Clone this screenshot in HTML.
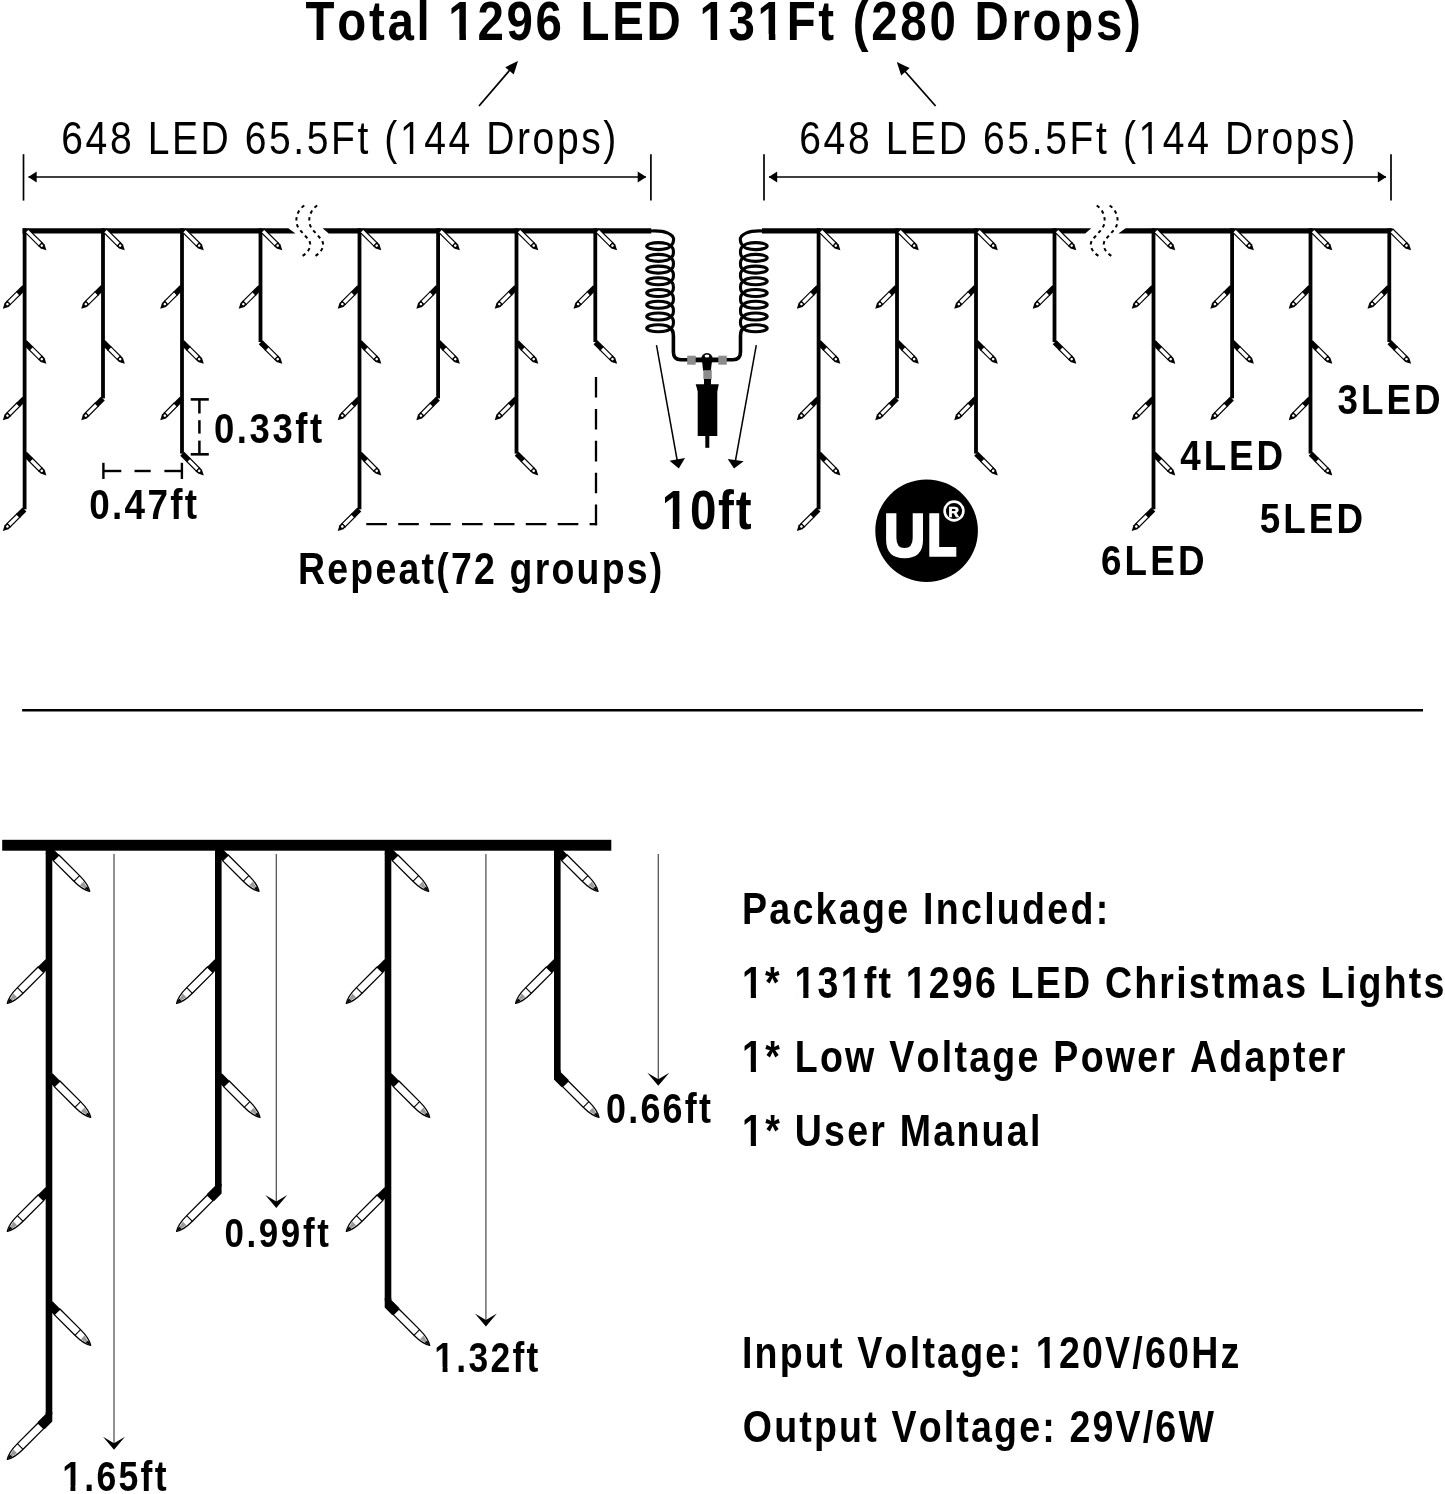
<!DOCTYPE html>
<html><head><meta charset="utf-8"><title>Icicle Lights Diagram</title>
<style>html,body{margin:0;padding:0;background:#fff;width:1445px;height:1494px;overflow:hidden}
svg text{font-family:"Liberation Sans",sans-serif;font-kerning:none} svg{will-change:transform}</style></head>
<body>
<svg width="1445" height="1494" viewBox="0 0 1445 1494" style="display:block"><defs><g id="ledS">
<path d="M0.3,-2.8 L9.5,-2.8 L9.5,2.8 L0.3,2.8 Z" fill="#000"/>
<rect x="9" y="-2.25" width="13.5" height="4.5" fill="#fff" stroke="#000" stroke-width="1.2"/>
<path d="M22,-2.8 L25.5,-2.8 L30.8,0 L25.5,2.8 L22,2.8 Z" fill="#000"/>
<circle cx="24.3" cy="0" r="1.3" fill="#fff"/>
</g><g id="ledS0">
<rect x="3" y="-2.25" width="19.5" height="4.5" fill="#fff" stroke="#000" stroke-width="1.2"/>
<path d="M22,-2.8 L25.5,-2.8 L30.8,0 L25.5,2.8 L22,2.8 Z" fill="#000"/>
<circle cx="24.3" cy="0" r="1.3" fill="#fff"/>
</g><g id="ledB">
<rect x="-4" y="-4.3" width="11" height="8.6" fill="#000"/>
<path d="M6.8,-4 L36,-4 C44,-4 50,-2.8 54.3,0 C50,2.8 44,4 36,4 L6.8,4 Z" fill="#fff" stroke="#000" stroke-width="1.3" stroke-linejoin="round"/>
<line x1="36" y1="-4" x2="36" y2="4" stroke="#000" stroke-width="1.1"/>
<path d="M43,-2.6 L53,0 L43,2.6 Z" fill="#9a9a9a"/>
<path d="M54.6,0 L49,-1.6 L49,1.6 Z" fill="#000"/>
</g></defs><g font-family="Liberation Sans, sans-serif" style="font-kerning:none"><text transform="translate(306.1,40.4) scale(0.85,1)" x="-0.63" y="0" font-size="55.81" font-weight="bold" letter-spacing="3.19">Total 1296 LED 131Ft (280 Drops)</text>
<g transform="translate(306.1,40.4) scale(0.85,1)" fill="#fff"><rect x="170.07" y="-6.5" width="10.31" height="7.3"/><rect x="188.03" y="-6.5" width="9.6" height="7.3"/><rect x="465.59" y="-6.5" width="10.31" height="7.3"/><rect x="483.56" y="-6.5" width="9.6" height="7.3"/><rect x="534.06" y="-6.5" width="10.31" height="7.3"/><rect x="552.03" y="-6.5" width="9.6" height="7.3"/></g>
<line x1="479" y1="106" x2="512" y2="67.5" stroke="#000" stroke-width="1.8" stroke-linecap="butt" />
<polygon points="518,61 513.74,74.5 505.26,67.18" fill="#000"/>
<line x1="935.6" y1="106" x2="902.5" y2="68.5" stroke="#000" stroke-width="1.8" stroke-linecap="butt" />
<polygon points="896.8,62 909.6,68.04 901.2,75.45" fill="#000"/>
<text transform="translate(63.3,153.7) scale(0.85,1)" x="-2.33" y="0" font-size="45.97" font-weight="normal" letter-spacing="3.02">648 LED 65.5Ft (144 Drops)</text>
<g transform="translate(63.3,153.7) scale(0.85,1)" fill="#fff"><rect x="398.82" y="-4.23" width="8.86" height="5.03"/><rect x="411.74" y="-4.23" width="8.5" height="5.03"/></g>
<text transform="translate(801.2,153.7) scale(0.85,1)" x="-2.33" y="0" font-size="45.97" font-weight="normal" letter-spacing="3.07">648 LED 65.5Ft (144 Drops)</text>
<g transform="translate(801.2,153.7) scale(0.85,1)" fill="#fff"><rect x="399.65" y="-4.23" width="8.86" height="5.03"/><rect x="412.57" y="-4.23" width="8.5" height="5.03"/></g>
<line x1="23.5" y1="154.2" x2="23.5" y2="200.6" stroke="#000" stroke-width="1.7" stroke-linecap="butt" />
<line x1="650.9" y1="154.2" x2="650.9" y2="200.6" stroke="#000" stroke-width="1.7" stroke-linecap="butt" />
<line x1="28.5" y1="177" x2="645.9" y2="177" stroke="#000" stroke-width="1.5" stroke-linecap="butt" />
<polygon points="28.2,177 36.7,171.5 36.7,182.5" fill="#000"/>
<polygon points="646.2,177 637.7,182.5 637.7,171.5" fill="#000"/>
<line x1="764" y1="154.2" x2="764" y2="200.6" stroke="#000" stroke-width="1.7" stroke-linecap="butt" />
<line x1="1391" y1="154.2" x2="1391" y2="200.6" stroke="#000" stroke-width="1.7" stroke-linecap="butt" />
<line x1="769" y1="177" x2="1386" y2="177" stroke="#000" stroke-width="1.5" stroke-linecap="butt" />
<polygon points="768.7,177 777.2,171.5 777.2,182.5" fill="#000"/>
<polygon points="1386.3,177 1377.8,182.5 1377.8,171.5" fill="#000"/>
<path d="M22.6,228.3 L288.3,228.3 L295.5,233.5 L22.6,233.5 Z" fill="#000"/>
<path d="M322.6,228.3 L651.2,228.3 L651.2,233.5 L328.7,233.5 Z" fill="#000"/>
<rect x="22.7" y="228.3" width="3.8" height="281" fill="#000"/>
<use href="#ledS0" transform="translate(24.6,228.5) rotate(45)"/>
<use href="#ledS" transform="translate(24.6,287) rotate(135)"/>
<use href="#ledS" transform="translate(24.6,342) rotate(45)"/>
<use href="#ledS" transform="translate(24.6,398.4) rotate(135)"/>
<use href="#ledS" transform="translate(24.6,453.6) rotate(45)"/>
<use href="#ledS" transform="translate(24.6,509.3) rotate(135)"/>
<rect x="101.1" y="228.3" width="3.8" height="170.1" fill="#000"/>
<use href="#ledS0" transform="translate(103,228.5) rotate(45)"/>
<use href="#ledS" transform="translate(103,287) rotate(135)"/>
<use href="#ledS" transform="translate(103,342) rotate(45)"/>
<use href="#ledS" transform="translate(103,398.4) rotate(135)"/>
<rect x="180.1" y="228.3" width="3.8" height="225.3" fill="#000"/>
<use href="#ledS0" transform="translate(182,228.5) rotate(45)"/>
<use href="#ledS" transform="translate(182,287) rotate(135)"/>
<use href="#ledS" transform="translate(182,342) rotate(45)"/>
<use href="#ledS" transform="translate(182,398.4) rotate(135)"/>
<use href="#ledS" transform="translate(182,453.6) rotate(45)"/>
<rect x="258.6" y="228.3" width="3.8" height="113.7" fill="#000"/>
<use href="#ledS0" transform="translate(260.5,228.5) rotate(45)"/>
<use href="#ledS" transform="translate(260.5,287) rotate(135)"/>
<use href="#ledS" transform="translate(260.5,342) rotate(45)"/>
<rect x="357.6" y="228.3" width="3.8" height="281" fill="#000"/>
<use href="#ledS0" transform="translate(359.5,228.5) rotate(45)"/>
<use href="#ledS" transform="translate(359.5,287) rotate(135)"/>
<use href="#ledS" transform="translate(359.5,342) rotate(45)"/>
<use href="#ledS" transform="translate(359.5,398.4) rotate(135)"/>
<use href="#ledS" transform="translate(359.5,453.6) rotate(45)"/>
<use href="#ledS" transform="translate(359.5,509.3) rotate(135)"/>
<rect x="436.2" y="228.3" width="3.8" height="170.1" fill="#000"/>
<use href="#ledS0" transform="translate(438.1,228.5) rotate(45)"/>
<use href="#ledS" transform="translate(438.1,287) rotate(135)"/>
<use href="#ledS" transform="translate(438.1,342) rotate(45)"/>
<use href="#ledS" transform="translate(438.1,398.4) rotate(135)"/>
<rect x="514.6" y="228.3" width="3.8" height="225.3" fill="#000"/>
<use href="#ledS0" transform="translate(516.5,228.5) rotate(45)"/>
<use href="#ledS" transform="translate(516.5,287) rotate(135)"/>
<use href="#ledS" transform="translate(516.5,342) rotate(45)"/>
<use href="#ledS" transform="translate(516.5,398.4) rotate(135)"/>
<use href="#ledS" transform="translate(516.5,453.6) rotate(45)"/>
<rect x="593.4" y="228.3" width="3.8" height="113.7" fill="#000"/>
<use href="#ledS0" transform="translate(595.3,228.5) rotate(45)"/>
<use href="#ledS" transform="translate(595.3,287) rotate(135)"/>
<use href="#ledS" transform="translate(595.3,342) rotate(45)"/>
<path d="M304.3,205.5 C297,210 293,222 300,230 L308,239 C313,245 309,252 301.6,256.6" fill="none" stroke="#000" stroke-width="2.0" stroke-dasharray="3.5 3.6"/>
<path d="M317.2,205.5 C309.9,210 305.9,222 312.9,230 L320.9,239 C325.9,245 321.9,252 314.5,256.6" fill="none" stroke="#000" stroke-width="2.0" stroke-dasharray="3.5 3.6"/>
<path d="M762,228.3 L1091.3,228.3 L1085.2,233.5 L762,233.5 Z" fill="#000"/>
<path d="M1125.6,228.3 L1392.4,228.3 L1392.4,233.5 L1118.4,233.5 Z" fill="#000"/>
<rect x="816.7" y="228.3" width="3.8" height="281" fill="#000"/>
<use href="#ledS0" transform="translate(818.6,228.5) rotate(45)"/>
<use href="#ledS" transform="translate(818.6,287) rotate(135)"/>
<use href="#ledS" transform="translate(818.6,342) rotate(45)"/>
<use href="#ledS" transform="translate(818.6,398.4) rotate(135)"/>
<use href="#ledS" transform="translate(818.6,453.6) rotate(45)"/>
<use href="#ledS" transform="translate(818.6,509.3) rotate(135)"/>
<rect x="895.1" y="228.3" width="3.8" height="170.1" fill="#000"/>
<use href="#ledS0" transform="translate(897,228.5) rotate(45)"/>
<use href="#ledS" transform="translate(897,287) rotate(135)"/>
<use href="#ledS" transform="translate(897,342) rotate(45)"/>
<use href="#ledS" transform="translate(897,398.4) rotate(135)"/>
<rect x="974.1" y="228.3" width="3.8" height="225.3" fill="#000"/>
<use href="#ledS0" transform="translate(976,228.5) rotate(45)"/>
<use href="#ledS" transform="translate(976,287) rotate(135)"/>
<use href="#ledS" transform="translate(976,342) rotate(45)"/>
<use href="#ledS" transform="translate(976,398.4) rotate(135)"/>
<use href="#ledS" transform="translate(976,453.6) rotate(45)"/>
<rect x="1052.6" y="228.3" width="3.8" height="113.7" fill="#000"/>
<use href="#ledS0" transform="translate(1054.5,228.5) rotate(45)"/>
<use href="#ledS" transform="translate(1054.5,287) rotate(135)"/>
<use href="#ledS" transform="translate(1054.5,342) rotate(45)"/>
<rect x="1151.6" y="228.3" width="3.8" height="281" fill="#000"/>
<use href="#ledS0" transform="translate(1153.5,228.5) rotate(45)"/>
<use href="#ledS" transform="translate(1153.5,287) rotate(135)"/>
<use href="#ledS" transform="translate(1153.5,342) rotate(45)"/>
<use href="#ledS" transform="translate(1153.5,398.4) rotate(135)"/>
<use href="#ledS" transform="translate(1153.5,453.6) rotate(45)"/>
<use href="#ledS" transform="translate(1153.5,509.3) rotate(135)"/>
<rect x="1230.2" y="228.3" width="3.8" height="170.1" fill="#000"/>
<use href="#ledS0" transform="translate(1232.1,228.5) rotate(45)"/>
<use href="#ledS" transform="translate(1232.1,287) rotate(135)"/>
<use href="#ledS" transform="translate(1232.1,342) rotate(45)"/>
<use href="#ledS" transform="translate(1232.1,398.4) rotate(135)"/>
<rect x="1308.6" y="228.3" width="3.8" height="225.3" fill="#000"/>
<use href="#ledS0" transform="translate(1310.5,228.5) rotate(45)"/>
<use href="#ledS" transform="translate(1310.5,287) rotate(135)"/>
<use href="#ledS" transform="translate(1310.5,342) rotate(45)"/>
<use href="#ledS" transform="translate(1310.5,398.4) rotate(135)"/>
<use href="#ledS" transform="translate(1310.5,453.6) rotate(45)"/>
<rect x="1387.4" y="228.3" width="3.8" height="113.7" fill="#000"/>
<use href="#ledS0" transform="translate(1389.3,228.5) rotate(45)"/>
<use href="#ledS" transform="translate(1389.3,287) rotate(135)"/>
<use href="#ledS" transform="translate(1389.3,342) rotate(45)"/>
<g transform="translate(1413.9,0) scale(-1,1)">
<path d="M304.3,205.5 C297,210 293,222 300,230 L308,239 C313,245 309,252 301.6,256.6" fill="none" stroke="#000" stroke-width="2.0" stroke-dasharray="3.5 3.6"/>
<path d="M317.2,205.5 C309.9,210 305.9,222 312.9,230 L320.9,239 C325.9,245 321.9,252 314.5,256.6" fill="none" stroke="#000" stroke-width="2.0" stroke-dasharray="3.5 3.6"/>
</g>
<path d="M650,231 C666,230 674,234.5 673.6,240 C673.3,243.5 671.8,245.3 670,246.1" fill="none" stroke="#000" stroke-width="3.1"/><path d="M670,246.1 A11.65,3.5 0 0 0 646.7,246.1 A11.65,3.5 0 0 0 670,246.1" fill="none" stroke="#000" stroke-width="3.1"/><path d="M670,257.84 A11.65,3.5 0 0 0 646.7,257.84 A11.65,3.5 0 0 0 670,257.84" fill="none" stroke="#000" stroke-width="3.1"/><path d="M670,269.58 A11.65,3.5 0 0 0 646.7,269.58 A11.65,3.5 0 0 0 670,269.58" fill="none" stroke="#000" stroke-width="3.1"/><path d="M670,281.32 A11.65,3.5 0 0 0 646.7,281.32 A11.65,3.5 0 0 0 670,281.32" fill="none" stroke="#000" stroke-width="3.1"/><path d="M670,293.06 A11.65,3.5 0 0 0 646.7,293.06 A11.65,3.5 0 0 0 670,293.06" fill="none" stroke="#000" stroke-width="3.1"/><path d="M670,304.8 A11.65,3.5 0 0 0 646.7,304.8 A11.65,3.5 0 0 0 670,304.8" fill="none" stroke="#000" stroke-width="3.1"/><path d="M670,316.54 A11.65,3.5 0 0 0 646.7,316.54 A11.65,3.5 0 0 0 670,316.54" fill="none" stroke="#000" stroke-width="3.1"/><path d="M670,328.28 A11.65,3.5 0 0 0 646.7,328.28 A11.65,3.5 0 0 0 670,328.28" fill="none" stroke="#000" stroke-width="3.1"/><path d="M670,246.1 C674.6,247.3 674.6,256.64 670,257.84" fill="none" stroke="#000" stroke-width="3.1"/><path d="M670,257.84 C674.6,259.04 674.6,268.38 670,269.58" fill="none" stroke="#000" stroke-width="3.1"/><path d="M670,269.58 C674.6,270.78 674.6,280.12 670,281.32" fill="none" stroke="#000" stroke-width="3.1"/><path d="M670,281.32 C674.6,282.52 674.6,291.86 670,293.06" fill="none" stroke="#000" stroke-width="3.1"/><path d="M670,293.06 C674.6,294.26 674.6,303.6 670,304.8" fill="none" stroke="#000" stroke-width="3.1"/><path d="M670,304.8 C674.6,306 674.6,315.34 670,316.54" fill="none" stroke="#000" stroke-width="3.1"/><path d="M670,316.54 C674.6,317.74 674.6,327.08 670,328.28" fill="none" stroke="#000" stroke-width="3.1"/><path d="M670,328.28 C672.8,329.28 673.4,332.28 673.4,336 L673.4,352 Q673.4,359.7 681,359.7 L690,359.7" fill="none" stroke="#000" stroke-width="3.6"/>
<g transform="translate(1413.9,0) scale(-1,1)"><path d="M650,231 C666,230 674,234.5 673.6,240 C673.3,243.5 671.8,245.3 670,246.1" fill="none" stroke="#000" stroke-width="3.1"/><path d="M670,246.1 A11.65,3.5 0 0 0 646.7,246.1 A11.65,3.5 0 0 0 670,246.1" fill="none" stroke="#000" stroke-width="3.1"/><path d="M670,257.84 A11.65,3.5 0 0 0 646.7,257.84 A11.65,3.5 0 0 0 670,257.84" fill="none" stroke="#000" stroke-width="3.1"/><path d="M670,269.58 A11.65,3.5 0 0 0 646.7,269.58 A11.65,3.5 0 0 0 670,269.58" fill="none" stroke="#000" stroke-width="3.1"/><path d="M670,281.32 A11.65,3.5 0 0 0 646.7,281.32 A11.65,3.5 0 0 0 670,281.32" fill="none" stroke="#000" stroke-width="3.1"/><path d="M670,293.06 A11.65,3.5 0 0 0 646.7,293.06 A11.65,3.5 0 0 0 670,293.06" fill="none" stroke="#000" stroke-width="3.1"/><path d="M670,304.8 A11.65,3.5 0 0 0 646.7,304.8 A11.65,3.5 0 0 0 670,304.8" fill="none" stroke="#000" stroke-width="3.1"/><path d="M670,316.54 A11.65,3.5 0 0 0 646.7,316.54 A11.65,3.5 0 0 0 670,316.54" fill="none" stroke="#000" stroke-width="3.1"/><path d="M670,328.28 A11.65,3.5 0 0 0 646.7,328.28 A11.65,3.5 0 0 0 670,328.28" fill="none" stroke="#000" stroke-width="3.1"/><path d="M670,246.1 C674.6,247.3 674.6,256.64 670,257.84" fill="none" stroke="#000" stroke-width="3.1"/><path d="M670,257.84 C674.6,259.04 674.6,268.38 670,269.58" fill="none" stroke="#000" stroke-width="3.1"/><path d="M670,269.58 C674.6,270.78 674.6,280.12 670,281.32" fill="none" stroke="#000" stroke-width="3.1"/><path d="M670,281.32 C674.6,282.52 674.6,291.86 670,293.06" fill="none" stroke="#000" stroke-width="3.1"/><path d="M670,293.06 C674.6,294.26 674.6,303.6 670,304.8" fill="none" stroke="#000" stroke-width="3.1"/><path d="M670,304.8 C674.6,306 674.6,315.34 670,316.54" fill="none" stroke="#000" stroke-width="3.1"/><path d="M670,316.54 C674.6,317.74 674.6,327.08 670,328.28" fill="none" stroke="#000" stroke-width="3.1"/><path d="M670,328.28 C672.8,329.28 673.4,332.28 673.4,336 L673.4,352 Q673.4,359.7 681,359.7 L690,359.7" fill="none" stroke="#000" stroke-width="3.6"/></g>
<rect x="695" y="357.5" width="24.5" height="4.8" fill="#000"/>
<circle cx="707" cy="358.8" r="5.8" fill="#000"/>
<ellipse cx="707" cy="356" rx="2.4" ry="1.5" fill="#fff"/>
<polygon points="702,361 712,361 710.8,371 703.2,371" fill="#000"/>
<rect x="687.2" y="355.7" width="8.5" height="9" fill="#8c8c8c"/>
<rect x="718.3" y="355.7" width="8.5" height="9" fill="#8c8c8c"/>
<rect x="703.3" y="370.2" width="8.5" height="9.1" fill="#8c8c8c"/>
<rect x="704" y="379" width="7" height="6" fill="#000"/>
<path d="M695.7,384.3 L718.8,384.3 L717.3,391 L697.7,391 Z" fill="#000"/>
<rect x="697.7" y="385" width="19.6" height="51" fill="#000"/>
<rect x="705.3" y="435" width="4" height="12.8" fill="#000"/>
<line x1="656.5" y1="345.2" x2="677.3" y2="461" stroke="#000" stroke-width="1.5" stroke-linecap="butt" />
<polygon points="669.6,460.8 685,458 678.8,468.6" fill="#000"/>
<line x1="756.3" y1="345.2" x2="735.4" y2="461" stroke="#000" stroke-width="1.5" stroke-linecap="butt" />
<polygon points="727.7,458.9 743.7,461.3 734,468.6" fill="#000"/>
<text transform="translate(664.7,528.7) scale(0.85,1)" x="-3.52" y="0" font-size="55.96" font-weight="bold" letter-spacing="2.07">10ft</text>
<g transform="translate(664.7,528.7) scale(0.85,1)" fill="#fff"><rect x="-0.8" y="-6.51" width="10.34" height="7.31"/><rect x="17.21" y="-6.51" width="9.63" height="7.31"/></g>
<line x1="190.7" y1="399.4" x2="208.8" y2="399.4" stroke="#000" stroke-width="2.6" stroke-linecap="butt" />
<line x1="190.7" y1="454.3" x2="208.8" y2="454.3" stroke="#000" stroke-width="2.6" stroke-linecap="butt" />
<line x1="199.4" y1="399.4" x2="199.4" y2="413.5" stroke="#000" stroke-width="2.5" stroke-linecap="butt" />
<line x1="199.4" y1="420.2" x2="199.4" y2="433.6" stroke="#000" stroke-width="2.5" stroke-linecap="butt" />
<line x1="199.4" y1="440.6" x2="199.4" y2="454.3" stroke="#000" stroke-width="2.5" stroke-linecap="butt" />
<text transform="translate(215.4,442.5) scale(0.85,1)" x="-1.7" y="0" font-size="42.97" font-weight="bold" letter-spacing="3.01">0.33ft</text>
<line x1="103.4" y1="462.8" x2="103.4" y2="479" stroke="#000" stroke-width="2.4" stroke-linecap="butt" />
<line x1="181.9" y1="462.8" x2="181.9" y2="479" stroke="#000" stroke-width="2.4" stroke-linecap="butt" />
<line x1="103.4" y1="471" x2="121.3" y2="471" stroke="#000" stroke-width="2.4" stroke-linecap="butt" />
<line x1="134.5" y1="471" x2="150.7" y2="471" stroke="#000" stroke-width="2.4" stroke-linecap="butt" />
<line x1="164.4" y1="471" x2="181.9" y2="471" stroke="#000" stroke-width="2.4" stroke-linecap="butt" />
<text transform="translate(90.8,519.2) scale(0.85,1)" x="-1.72" y="0" font-size="43.39" font-weight="bold" letter-spacing="2.67">0.47ft</text>
<path d="M366.3,524.2 L597.1,524.2" fill="none" stroke="#000" stroke-width="2.3" stroke-dasharray="20.6 11.3"/>
<path d="M596,377 L596,525.3" fill="none" stroke="#000" stroke-width="2.3" stroke-dasharray="20.6 11.3"/>
<text transform="translate(300.5,583.8) scale(0.85,1)" x="-2.95" y="0" font-size="44.04" font-weight="bold" letter-spacing="2.63">Repeat(72 groups)</text>
<circle cx="926.6" cy="530.7" r="51.3" fill="#000"/>
<path d="M886.1,513.2 H896.4 V538 Q896.4,548 904.55,548 Q912.7,548 912.7,538 V513.2 H923 V540 Q923,558.2 904.55,558.2 Q886.1,558.2 886.1,540 Z" fill="#fff"/>
<path d="M929.3,513.2 H939.2 V547 H956.3 V556.8 H929.3 Z" fill="#fff"/>
<circle cx="954" cy="511" r="9.4" fill="none" stroke="#fff" stroke-width="2.6"/>
<text x="948.4" y="516.8" font-size="14.5" font-weight="bold" fill="#fff" stroke="#fff" stroke-width="0.7">R</text>
<text transform="translate(1338.4,414.4) scale(0.85,1)" x="-0.99" y="0" font-size="43.31" font-weight="bold" letter-spacing="3.48">3LED</text>
<text transform="translate(1180.9,469.5) scale(0.85,1)" x="-0.66" y="0" font-size="43.31" font-weight="bold" letter-spacing="3.41">4LED</text>
<text transform="translate(1260.8,533.4) scale(0.85,1)" x="-1.33" y="0" font-size="43.31" font-weight="bold" letter-spacing="3.63">5LED</text>
<text transform="translate(1102.3,575.2) scale(0.85,1)" x="-1.59" y="0" font-size="43.31" font-weight="bold" letter-spacing="3.72">6LED</text>
<line x1="22.1" y1="710.2" x2="1423" y2="710.2" stroke="#000" stroke-width="2.6" stroke-linecap="butt" />
<rect x="2.2" y="839.8" width="609.1" height="10.9" fill="#000"/>
<rect x="45.7" y="845" width="6.6" height="569.5" fill="#000"/>
<use href="#ledB" transform="translate(51.3,853) rotate(45)"/>
<use href="#ledB" transform="translate(45.7,965) rotate(135)"/>
<use href="#ledB" transform="translate(52.3,1079) rotate(45)"/>
<use href="#ledB" transform="translate(45.7,1193) rotate(135)"/>
<use href="#ledB" transform="translate(52.3,1307) rotate(45)"/>
<polygon points="52.3,1412 45.7,1412 45.7,1414 37.56,1422.06 44.64,1429.14 52.3,1421.5" fill="#000"/>
<use href="#ledB" transform="translate(45.7,1421) rotate(135)"/>
<rect x="215" y="845" width="6.6" height="341.5" fill="#000"/>
<use href="#ledB" transform="translate(220.6,853) rotate(45)"/>
<use href="#ledB" transform="translate(215,965) rotate(135)"/>
<use href="#ledB" transform="translate(221.6,1079) rotate(45)"/>
<polygon points="221.6,1184 215,1184 215,1186 206.86,1194.06 213.94,1201.14 221.6,1193.5" fill="#000"/>
<use href="#ledB" transform="translate(215,1193) rotate(135)"/>
<rect x="384.7" y="845" width="6.6" height="455.5" fill="#000"/>
<use href="#ledB" transform="translate(390.3,853) rotate(45)"/>
<use href="#ledB" transform="translate(384.7,965) rotate(135)"/>
<use href="#ledB" transform="translate(391.3,1079) rotate(45)"/>
<use href="#ledB" transform="translate(384.7,1193) rotate(135)"/>
<polygon points="384.7,1298 391.3,1298 391.3,1300 399.44,1308.06 392.36,1315.14 384.7,1307.5" fill="#000"/>
<use href="#ledB" transform="translate(391.3,1307) rotate(45)"/>
<rect x="554" y="845" width="6.6" height="227.5" fill="#000"/>
<use href="#ledB" transform="translate(559.6,853) rotate(45)"/>
<use href="#ledB" transform="translate(554,965) rotate(135)"/>
<polygon points="554,1070 560.6,1070 560.6,1072 568.74,1080.06 561.66,1087.14 554,1079.5" fill="#000"/>
<use href="#ledB" transform="translate(560.6,1079) rotate(45)"/>
<line x1="114" y1="854" x2="114" y2="1445.8" stroke="#555" stroke-width="1.3" stroke-linecap="butt" />
<path d="M103,1436.8 L114,1449.8 L125,1436.8 L114,1443.3 Z" fill="#000"/>
<line x1="276.3" y1="854" x2="276.3" y2="1204" stroke="#555" stroke-width="1.3" stroke-linecap="butt" />
<path d="M265.3,1195 L276.3,1208 L287.3,1195 L276.3,1201.5 Z" fill="#000"/>
<line x1="485.9" y1="854" x2="485.9" y2="1322.5" stroke="#555" stroke-width="1.3" stroke-linecap="butt" />
<path d="M474.9,1313.5 L485.9,1326.5 L496.9,1313.5 L485.9,1320 Z" fill="#000"/>
<line x1="658.3" y1="854" x2="658.3" y2="1081.7" stroke="#555" stroke-width="1.3" stroke-linecap="butt" />
<path d="M647.3,1072.7 L658.3,1085.7 L669.3,1072.7 L658.3,1079.2 Z" fill="#000"/>
<text transform="translate(607.5,1122.8) scale(0.85,1)" x="-1.67" y="0" font-size="42.25" font-weight="bold" letter-spacing="2.6">0.66ft</text>
<text transform="translate(225.8,1246.6) scale(0.85,1)" x="-1.63" y="0" font-size="41.1" font-weight="bold" letter-spacing="3.09">0.99ft</text>
<text transform="translate(436.6,1372) scale(0.85,1)" x="-2.63" y="0" font-size="41.68" font-weight="bold" letter-spacing="2.71">1.32ft</text>
<g transform="translate(436.6,1372) scale(0.85,1)" fill="#fff"><rect x="-0.8" y="-5.05" width="7.9" height="5.85"/><rect x="12.82" y="-5.05" width="7.37" height="5.85"/></g>
<text transform="translate(64.4,1490.8) scale(0.85,1)" x="-2.64" y="0" font-size="41.86" font-weight="bold" letter-spacing="2.71">1.65ft</text>
<g transform="translate(64.4,1490.8) scale(0.85,1)" fill="#fff"><rect x="-0.8" y="-5.07" width="7.93" height="5.87"/><rect x="12.88" y="-5.07" width="7.4" height="5.87"/></g>
<text transform="translate(744.4,924.3) scale(0.85,1)" x="-2.96" y="0" font-size="44.19" font-weight="bold" letter-spacing="2.69">Package Included:</text>
<text transform="translate(744.4,998.2) scale(0.85,1)" x="-2.78" y="0" font-size="44.19" font-weight="bold" letter-spacing="2.57">1* 131ft 1296 LED Christmas Lights</text>
<g transform="translate(744.4,998.2) scale(0.85,1)" fill="#fff"><rect x="-0.8" y="-5.31" width="8.33" height="6.11"/><rect x="13.59" y="-5.31" width="7.77" height="6.11"/><rect x="60.95" y="-5.31" width="8.33" height="6.11"/><rect x="75.34" y="-5.31" width="7.77" height="6.11"/><rect x="115.24" y="-5.31" width="8.33" height="6.11"/><rect x="129.63" y="-5.31" width="7.77" height="6.11"/><rect x="191.79" y="-5.31" width="8.33" height="6.11"/><rect x="206.18" y="-5.31" width="7.77" height="6.11"/></g>
<text transform="translate(744.4,1072.1) scale(0.85,1)" x="-2.78" y="0" font-size="44.19" font-weight="bold" letter-spacing="2.65">1* Low Voltage Power Adapter</text>
<g transform="translate(744.4,1072.1) scale(0.85,1)" fill="#fff"><rect x="-0.8" y="-5.31" width="8.33" height="6.11"/><rect x="13.59" y="-5.31" width="7.77" height="6.11"/></g>
<text transform="translate(744.4,1146.1) scale(0.85,1)" x="-2.78" y="0" font-size="44.19" font-weight="bold" letter-spacing="2.63">1* User Manual</text>
<g transform="translate(744.4,1146.1) scale(0.85,1)" fill="#fff"><rect x="-0.8" y="-5.31" width="8.33" height="6.11"/><rect x="13.59" y="-5.31" width="7.77" height="6.11"/></g>
<text transform="translate(744.4,1368.2) scale(0.85,1)" x="-2.96" y="0" font-size="44.19" font-weight="bold" letter-spacing="2.6">Input Voltage: 120V/60Hz</text>
<g transform="translate(744.4,1368.2) scale(0.85,1)" fill="#fff"><rect x="344.86" y="-5.31" width="8.33" height="6.11"/><rect x="359.25" y="-5.31" width="7.77" height="6.11"/></g>
<text transform="translate(744.4,1441.5) scale(0.85,1)" x="-1.81" y="0" font-size="44.19" font-weight="bold" letter-spacing="2.54">Output Voltage: 29V/6W</text></g></svg>
</body></html>
